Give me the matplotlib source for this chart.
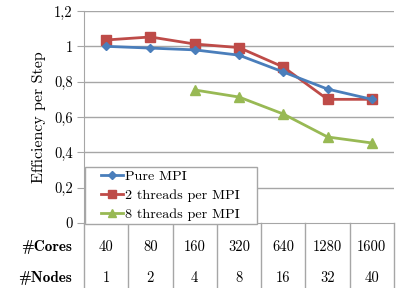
import matplotlib
matplotlib.use("Agg")
import matplotlib.pyplot as plt
from matplotlib.ticker import FixedLocator, FixedFormatter
from matplotlib.patches import Rectangle

cores = ["40", "80", "160", "320", "640", "1280", "1600"]
nodes = ["1", "2", "4", "8", "16", "32", "40"]
pure_mpi = [1.00, 0.99, 0.98, 0.95, 0.855, 0.758, 0.70]
two_threads = [1.036, 1.053, 1.013, 0.993, 0.883, 0.70, 0.70]
eight_threads = [None, None, 0.753, 0.713, 0.617, 0.487, 0.453]
yticks = [0, 0.2, 0.4, 0.6, 0.8, 1.0, 1.2]
ytick_labels = ["0", "0,2", "0,4", "0,6", "0,8", "1", "1,2"]

plt.rcParams['font.family'] = ['cmr10', 'DejaVu Serif']
plt.rcParams['axes.unicode_minus'] = False

W, H = 407, 288
fig = plt.figure(figsize=(W/100, H/100), dpi=100)
ax = fig.add_axes([84/W, 1-223/H, 310/W, 212/H])

x = list(range(len(cores)))
grid_c = "#a6a6a6"
ax.set_xlim(-0.5, len(cores)-0.5)
ax.set_ylim(0, 1.2)
for t in yticks[1:]:
    ax.axhline(t, color=grid_c, lw=1.0, zorder=0)

ax.plot(x, pure_mpi, color="#4a7ebb", lw=2.0, marker="D", ms=4.5, label="Pure MPI", zorder=3)
ax.plot(x, two_threads, color="#be4b48", lw=2.0, marker="s", ms=6.5, label="2 threads per MPI", zorder=2)
xe = [i for i, v in zip(x, eight_threads) if v is not None]
ye = [v for v in eight_threads if v is not None]
ax.plot(xe, ye, color="#98b954", lw=2.0, marker="^", ms=6.5, label="8 threads per MPI", zorder=2)

for s in ["top", "right"]:
    ax.spines[s].set_visible(False)
ax.spines["left"].set_color(grid_c)
ax.spines["bottom"].set_color(grid_c)
ax.yaxis.set_major_locator(FixedLocator(yticks))
ax.yaxis.set_major_formatter(FixedFormatter(ytick_labels))
ax.tick_params(axis="y", length=5, color=grid_c, labelsize=10.5, pad=3)
ax.set_xticks([])
fig.text(39/W, 1-117/H, "Efficiency per Step", rotation=90, ha="center", va="center", fontsize=11.5)

tr = ax.get_xaxis_transform()
ybot = -(H-223)/212
for b in range(len(cores)+1):
    ax.plot([b-0.5, b-0.5], [0, ybot], transform=tr, color=grid_c, lw=1.0, clip_on=False)
y1 = -24/212
y2 = -55/212
for i in x:
    ax.text(i, y1, cores[i], transform=tr, ha="center", va="center", fontsize=10.5)
    ax.text(i, y2, nodes[i], transform=tr, ha="center", va="center", fontsize=10.5)
fig.text(72/W, 1-247/H, "#Cores", ha="right", va="center", fontsize=11, family=['cmb10', 'DejaVu Serif'])
fig.text(72/W, 1-278/H, "#Nodes", ha="right", va="center", fontsize=11, family=['cmb10', 'DejaVu Serif'])

# legend frame
rect = Rectangle((85/W, 1-224/H), (257-85)/W, (224-167)/H, transform=fig.transFigure,
                 facecolor="white", edgecolor=grid_c, lw=1.0, zorder=4, clip_on=False)
fig.add_artist(rect)
leg = fig.legend(loc="upper left", bbox_to_anchor=(101/W, 1-170/H), borderaxespad=0,
                 fontsize=10.2, frameon=False, handlelength=1.55, handletextpad=0.15,
                 labelspacing=0.42, borderpad=0, markerscale=0.8)
leg.set_zorder(5)

fig.savefig("out.png", dpi=100)
